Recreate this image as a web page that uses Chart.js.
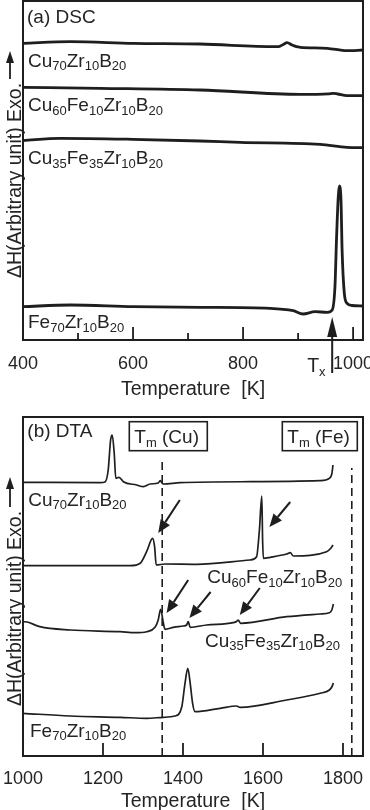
<!DOCTYPE html>
<html>
<head>
<meta charset="utf-8">
<script src="https://cdn.jsdelivr.net/npm/chart.js@4.4.1/dist/chart.umd.min.js"></script>
<style>
  html, body { margin: 0; padding: 0; background: #fff; overflow: hidden; }
  canvas { position: absolute; left: 0; }
  #dsc { top: 0; }
  #dta { top: 410px; }
</style>
</head>
<body>
<canvas id="dsc" width="380" height="410"></canvas>
<canvas id="dta" width="380" height="410"></canvas>
<script>
// ---- (a) DSC : temperature [K] / heat flow (arbitrary unit) ----
const DSC_TICKS = [400, 600, 800, 1000];
const DSC_MINOR = [500, 700, 900];
const DSC_NAMES = ['Cu_{70}Zr_{10}B_{20}', 'Cu_{60}Fe_{10}Zr_{10}B_{20}', 'Cu_{35}Fe_{35}Zr_{10}B_{20}', 'Fe_{70}Zr_{10}B_{20}'];

const dscCu70T = [400, 486, 600, 722, 858, 864, 873, 880, 889, 897, 904, 953, 989, 1018];
const dscCu70H = [296.7, 298.3, 296.7, 296, 293.3, 293.3, 295.5, 297.3, 295, 293.3, 292.7, 291.7, 289.3, 290];
const dscCu60T = [400, 540, 722, 904, 955, 964, 972, 989, 1018];
const dscCu60H = [252.7, 251.7, 250, 245.7, 246.2, 246.7, 246, 244.3, 244.3];
const dscCu35T = [400, 467, 600, 722, 795, 940, 989, 1018];
const dscCu35H = [199.3, 201.7, 200.7, 199, 197.7, 195.7, 192.7, 192.3];
const dscFe70T = [400, 486, 600, 722, 849, 891, 909, 931, 953, 962, 967, 970, 973, 975, 978, 980, 984, 989, 998, 1018];
const dscFe70H = [33.3, 35, 33.3, 32.7, 31.7, 29.3, 26, 28.3, 27.7, 30, 53, 103, 143, 154, 140, 90, 47, 36.7, 34.5, 34];

const TX = 962; // crystallization onset marker

// ---- (b) DTA ----
const DTA_TICKS = [1000, 1200, 1400, 1600, 1800];
const DTA_NAMES = DSC_NAMES;

const dtaCu70T = [1000, 1193, 1205, 1213, 1219, 1223, 1228, 1232, 1240, 1251, 1284, 1301, 1318, 1338, 1343, 1350, 1393, 1568, 1743, 1766, 1772, 1775];
const dtaCu70H = [273.7, 273.3, 274, 286, 316, 321, 303, 277.7, 278.7, 274.3, 271, 269.3, 272, 273, 275.3, 272, 273.3, 274.3, 275.3, 277.7, 282, 291];
const dtaCu60T = [1000, 1268, 1293, 1309, 1324, 1329, 1333, 1355, 1434, 1568, 1584, 1591, 1597, 1599, 1601, 1618, 1659, 1668, 1676, 1759, 1770, 1775];
const dtaCu60H = [190.3, 190.3, 192.7, 204.3, 217.7, 209.3, 191, 192, 191.7, 196, 199.3, 226, 260, 216, 197.7, 198.7, 202, 203.3, 200, 204.3, 208, 211];
const dtaCu35T = [1000, 1010, 1042, 1118, 1243, 1280, 1309, 1330, 1338, 1344, 1351, 1355, 1376, 1401, 1409, 1413, 1418, 1459, 1526, 1534, 1538, 1544, 1659, 1743, 1766, 1772, 1776];
const dtaCu35H = [134.3, 134, 129.3, 126, 124.3, 123.3, 124.3, 128.7, 136, 146.7, 132.7, 126.7, 128.7, 130, 131, 134.3, 128.7, 131, 133.3, 134.5, 136, 132.7, 139.3, 142, 143.3, 146, 152];
const dtaFe70T = [1000, 1118, 1243, 1309, 1351, 1380, 1397, 1405, 1412, 1418, 1424, 1430, 1493, 1534, 1543, 1659, 1743, 1766, 1772, 1776];
const dtaFe70H = [42.7, 40, 38.7, 37.7, 38.7, 40, 49.3, 72.7, 87.7, 72.7, 52.7, 44.3, 47.7, 50, 48.7, 56, 62.7, 66, 69, 73];

// melting points of the pure metals (dashed lines) and their top ends
const TM_T = [1348, 1822];
const TM_TOP = [297, 288];

// arrows pointing to the melting peaks: [T from, H from, T to, H to]
const DTA_ARROWS = [
  [1392, 256, 1338, 223],
  [1668, 254, 1616, 229],
  [1413, 176, 1359, 143],
  [1469, 164, 1416, 138],
  [1592, 168, 1542, 141]
];

const FONT = '"Liberation Sans", Arial, Helvetica, sans-serif';
const INK = '#1e1e1e';
const TEXT = '#242424';

function pts(T, H) {
  return T.map((t, i) => ({ x: t, y: H[i] }));
}

function curve(T, H, w) {
  return {
    data: pts(T, H),
    borderColor: INK,
    borderWidth: w,
    pointRadius: 0,
    cubicInterpolationMode: 'monotone',
    fill: false
  };
}

// text with _{..} subscripts
function drawRich(ctx, str, x, y, size, subSize) {
  const parts = str.split(/(_\{[^}]*\})/).filter(Boolean);
  ctx.textAlign = 'left';
  ctx.textBaseline = 'alphabetic';
  for (const p of parts) {
    const sub = p.startsWith('_{');
    const t = sub ? p.slice(2, -1) : p;
    ctx.font = (sub ? subSize : size) + 'px ' + FONT;
    ctx.fillText(t, x, sub ? y + 3.5 : y);
    x += ctx.measureText(t).width;
  }
  return x;
}

function arrow(ctx, x0, y0, x1, y1, headLen, headW, lw) {
  const a = Math.atan2(y1 - y0, x1 - x0);
  const bx = x1 - headLen * Math.cos(a), by = y1 - headLen * Math.sin(a);
  ctx.lineWidth = lw;
  ctx.beginPath();
  ctx.moveTo(x0, y0);
  ctx.lineTo(bx, by);
  ctx.stroke();
  ctx.beginPath();
  ctx.moveTo(x1, y1);
  ctx.lineTo(bx + headW / 2 * Math.sin(a), by - headW / 2 * Math.cos(a));
  ctx.lineTo(bx - headW / 2 * Math.sin(a), by + headW / 2 * Math.cos(a));
  ctx.closePath();
  ctx.fill();
}

const decor = {
  id: 'decor',
  afterDatasetsDraw(chart, args, o) {
    const ctx = chart.ctx;
    const { left, right, top, bottom } = chart.chartArea;
    const xs = chart.scales.x, ys = chart.scales.y;
    ctx.save();
    ctx.strokeStyle = INK;
    ctx.fillStyle = INK;

    // frame
    ctx.lineWidth = 2;
    ctx.strokeRect(left, top, right - left, bottom - top);

    // inward ticks on the bottom axis
    ctx.lineWidth = 1.8;
    const tick = (v, len) => {
      const px = xs.getPixelForValue(v);
      ctx.beginPath();
      ctx.moveTo(px, bottom);
      ctx.lineTo(px, bottom - len);
      ctx.stroke();
    };
    o.major.forEach(v => tick(v, 13));
    (o.minor || []).forEach(v => tick(v, 7));

    // arrows in data coordinates
    (o.arrows || []).forEach(a => {
      arrow(ctx, xs.getPixelForValue(a[0]), ys.getPixelForValue(a[1]),
        xs.getPixelForValue(a[2]), ys.getPixelForValue(a[3]), 13, 11, 2);
    });

    // Tx marker
    if (o.tx) {
      const px = xs.getPixelForValue(o.tx);
      arrow(ctx, px, bottom + 33, px, ys.getPixelForValue(23), 20, 10, 2);
      ctx.fillStyle = TEXT;
      drawRich(ctx, 'T_{x}', px - 25, bottom + 32, 19.5, 13);
    }

    // boxed labels
    ctx.fillStyle = TEXT;
    (o.boxes || []).forEach(b => {
      ctx.lineWidth = 1.6;
      ctx.strokeRect(b.x, b.y, b.w, b.h);
      drawRich(ctx, b.text, b.x + 5, b.y + 21.6, 19, 13);
    });

    // sample labels
    o.labels.forEach(l => drawRich(ctx, l.text, l.x, l.y, 19, 13));

    // rotated y title with arrow
    ctx.save();
    ctx.translate(21, o.yTitleStart);
    ctx.rotate(-Math.PI / 2);
    ctx.font = '19.5px ' + FONT;
    ctx.textAlign = 'left';
    ctx.textBaseline = 'alphabetic';
    const txt = '\u0394H(Arbitrary unit) Exo.';
    ctx.fillText(txt, 0, 0);
    const w = ctx.measureText(txt).width;
    ctx.fillStyle = INK;
    arrow(ctx, w + 4, -11, w + 4 + o.yArrowLen, -11, 12, 8, 1.8);
    ctx.restore();

    ctx.restore();
  }
};

function axisX(min, max, ticks, tl, titlePad) {
  return {
    type: 'linear',
    min: min,
    max: max,
    afterBuildTicks: ax => { ax.ticks = ticks.map(v => ({ value: v })); },
    // invisible tick marks only to space the labels below the axis
    grid: { display: true, drawOnChartArea: false, drawTicks: true, tickLength: tl, tickColor: 'rgba(0,0,0,0)', color: 'rgba(0,0,0,0)' },
    border: { display: false },
    ticks: {
      autoSkip: false, maxRotation: 0, padding: 0, color: TEXT,
      font: { size: 18, family: FONT, lineHeight: 1 },
      callback: v => String(v)
    },
    title: {
      display: true, text: 'Temperature  [K]', color: TEXT,
      font: { size: 19.5, family: FONT },
      padding: { top: titlePad, bottom: 0 }
    }
  };
}

new Chart(document.getElementById('dsc'), {
  type: 'line',
  data: {
    datasets: [
      curve(dscCu70T, dscCu70H, 2.8),
      curve(dscCu60T, dscCu60H, 2.8),
      curve(dscCu35T, dscCu35H, 2.8),
      curve(dscFe70T, dscFe70H, 2.8)
    ]
  },
  options: {
    responsive: false,
    animation: false,
    devicePixelRatio: 1,
    layout: { padding: { left: 23, right: 17, top: 1, bottom: 8.3 } },
    plugins: {
      legend: { display: false },
      tooltip: { enabled: false },
      decor: {
        major: DSC_TICKS,
        minor: DSC_MINOR,
        tx: TX,
        yTitleStart: 278,
        yArrowLen: 28,
        labels: [
          { text: '(a) DSC', x: 27, y: 22.7 },
          { text: DSC_NAMES[0], x: 28, y: 66.7 },
          { text: DSC_NAMES[1], x: 28, y: 111 },
          { text: DSC_NAMES[2], x: 28, y: 164.3 },
          { text: DSC_NAMES[3], x: 28, y: 328.3 }
        ]
      }
    },
    scales: {
      x: axisX(400, 1018, DSC_TICKS, 15, 5.3),
      y: { display: false, min: 0, max: 339 }
    }
  },
  plugins: [decor]
});

const dashed = (t, top) => ({
  data: [{ x: t, y: 0 }, { x: t, y: top }],
  borderColor: INK,
  borderWidth: 1.6,
  borderDash: [8, 5],
  pointRadius: 0,
  fill: false
});

new Chart(document.getElementById('dta'), {
  type: 'line',
  data: {
    datasets: [
      curve(dtaCu70T, dtaCu70H, 1.7),
      curve(dtaCu60T, dtaCu60H, 1.7),
      curve(dtaCu35T, dtaCu35H, 1.7),
      curve(dtaFe70T, dtaFe70H, 1.7),
      dashed(TM_T[0], TM_TOP[0]),
      dashed(TM_T[1], TM_TOP[1])
    ]
  },
  options: {
    responsive: false,
    animation: false,
    devicePixelRatio: 1,
    layout: { padding: { left: 23, right: 17, top: 7, bottom: 7.1 } },
    plugins: {
      legend: { display: false },
      tooltip: { enabled: false },
      decor: {
        major: DTA_TICKS,
        arrows: DTA_ARROWS,
        yTitleStart: 296,
        yArrowLen: 30,
        boxes: [
          { text: 'T_{m} (Cu)', x: 129.3, y: 11.7, w: 78, h: 29 },
          { text: 'T_{m} (Fe)', x: 282.3, y: 11.7, w: 75, h: 29 }
        ],
        labels: [
          { text: '(b) DTA', x: 27.3, y: 26.7 },
          { text: DTA_NAMES[0], x: 28.3, y: 95.5 },
          { text: DTA_NAMES[1], x: 207.3, y: 173.3 },
          { text: DTA_NAMES[2], x: 205, y: 236.7 },
          { text: DTA_NAMES[3], x: 30, y: 326.7 }
        ]
      }
    },
    scales: {
      x: axisX(1000, 1850, DTA_TICKS, 14, 1.5),
      y: { display: false, min: 0, max: 339 }
    }
  },
  plugins: [decor]
});
</script>
</body>
</html>
